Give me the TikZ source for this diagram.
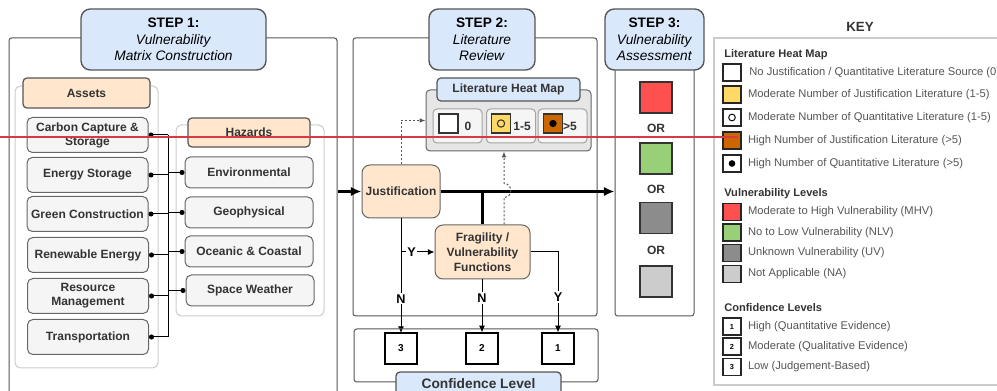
\documentclass[tikz,border=0pt]{standalone}
\usepackage{fontspec}
\setmainfont{Liberation Sans}
\usetikzlibrary{arrows.meta}
\definecolor{stepblue}{HTML}{DAE8FC}
\definecolor{peach}{HTML}{FFE6CC}
\definecolor{itemgray}{HTML}{F5F5F5}
\definecolor{mapgray}{HTML}{E6E6E6}
\definecolor{edgegray}{HTML}{666666}
\definecolor{framedark}{HTML}{555555}
\definecolor{framegray}{HTML}{CCCCCC}
\definecolor{txt}{HTML}{333333}
\definecolor{keygray}{HTML}{555555}
\definecolor{dotgray}{HTML}{555555}
\definecolor{mhv}{HTML}{FF5050}
\definecolor{nlv}{HTML}{97D077}
\definecolor{uv}{HTML}{8C8C8C}
\definecolor{na}{HTML}{CCCCCC}
\definecolor{lowlit}{HTML}{FFD966}
\definecolor{highlit}{HTML}{CC6600}
\definecolor{markred}{HTML}{D63B44}
\begin{document}
\begin{tikzpicture}[x=0.75pt, y=-0.75pt,
    frame/.style={draw=framedark, line width=0.75pt, rounded corners=2pt, inner sep=0pt},
    group/.style={draw=framegray, line width=0.75pt, rounded corners=4pt, inner sep=0pt},
    stepbox/.style={draw=framedark, fill=stepblue, line width=1pt, rounded corners=7pt, align=center, inner sep=0pt, text=black, font=\fontsize{10.3}{12.4}\selectfont},
    header/.style={draw=framedark, fill=peach, line width=0.9pt, rounded corners=3pt, inner sep=0pt, text=txt, font=\fontsize{9}{10.5}\selectfont\bfseries},
    item/.style={draw=edgegray, fill=itemgray, line width=0.75pt, rounded corners=4pt, align=center, inner sep=0pt, text=txt, font=\fontsize{9}{10.5}\selectfont\bfseries},
    proc/.style={draw=edgegray, fill=peach, line width=0.75pt, rounded corners=6pt, align=center, inner sep=0pt, text=txt, font=\fontsize{9}{11.25}\selectfont\bfseries},
    cell/.style={draw=edgegray!60, fill=itemgray, line width=0.75pt, rounded corners=3pt, inner sep=0pt, minimum width=36.75pt, minimum height=25.5pt},
    cellsq/.style={draw=txt, line width=0.9pt, inner sep=0pt, minimum size=14.25pt},
    celltxt/.style={inner sep=0pt, text=txt, font=\fontsize{9}{10}\selectfont\bfseries},
    conf/.style={draw=black, fill=white, line width=0.9pt, inner sep=0pt, minimum width=24pt, minimum height=23.25pt, font=\fontsize{7.5}{9}\selectfont\bfseries},
    vsq/.style={draw=txt, line width=1pt, inner sep=0pt, minimum width=24pt, minimum height=23.25pt},
    ortxt/.style={inner sep=0pt, text=txt, font=\fontsize{9}{10}\selectfont\bfseries},
    ksq/.style={draw=black!85, line width=1.1pt, inner sep=0pt, minimum width=13.5pt, minimum height=12.75pt},
    keytxt/.style={inner sep=0pt, text=keygray, font=\fontsize{8.4}{10}\selectfont},
    keyhead/.style={inner sep=0pt, text=txt, font=\fontsize{8.3}{10}\selectfont\bfseries},
    wire/.style={draw=black, line width=0.75pt},
    dot/.style={wire, {Circle[length=3.75pt]}-},
    arrow/.style={wire, -{Latex[length=5pt,width=4.5pt]}},
    bigarrow/.style={draw=black, line width=1.7pt, -{Latex[length=8pt,width=7pt]}},
    thickline/.style={draw=black, line width=1.7pt},
    dotarrow/.style={draw=dotgray, line width=0.75pt, dash pattern=on 1.5pt off 1.5pt, -{Latex[length=4.5pt,width=3.5pt]}},
    lbl/.style={fill=white, inner sep=1pt, font=\fontsize{9.5}{11}\selectfont\bfseries}]
    \useasboundingbox (0,0) rectangle (997,391);
    % step frames
    \node[frame, minimum width=246pt, minimum height=286.5pt] (fr1) at (173,229) {};
    \node[frame, minimum width=183pt, minimum height=208.5pt] (fr2) at (475,177) {};
    \node[frame, minimum width=59.25pt, minimum height=208.5pt] (fr3) at (654.5,177) {};
    \node[stepbox, minimum width=138.75pt, minimum height=45.75pt] (s1) at (173.5,39.5) {\textbf{STEP 1:}\\\textit{Vulnerability}\\\textit{Matrix Construction}};
    \node[stepbox, minimum width=79.5pt, minimum height=45.75pt] (s2) at (482,39.5) {\textbf{STEP 2:}\\\textit{Literature}\\\textit{Review}};
    \node[stepbox, minimum width=74.25pt, minimum height=45.75pt] (s3) at (654.5,39.5) {\textbf{STEP 3:}\\\textit{Vulnerability}\\\textit{Assessment}};
    % step 1
    \node[group, minimum width=107.25pt, minimum height=211.5pt] (ag) at (86.5,227) {};
    \node[header, minimum width=95.25pt, minimum height=22.5pt] (ah) at (86.5,93) {Assets};
    \node[item, minimum width=90.75pt, minimum height=26.25pt] (a1) at (87.5,135) {Carbon Capture \&\\Storage};
    \node[item, minimum width=90.75pt, minimum height=26.25pt] (a2) at (87.5,175) {Energy Storage};
    \node[item, minimum width=90.75pt, minimum height=26.25pt] (a3) at (87.5,214) {Green Construction};
    \node[item, minimum width=90.75pt, minimum height=26.25pt] (a4) at (88,255) {Renewable Energy};
    \node[item, minimum width=90.75pt, minimum height=26.25pt] (a5) at (88,296) {Resource\\Management};
    \node[item, minimum width=90.75pt, minimum height=26.25pt] (a6) at (88,337) {Transportation};
    \node[group, minimum width=111pt, minimum height=143.25pt] (hg) at (250,220.5) {};
    \node[header, minimum width=91.5pt, minimum height=21.75pt] (hh) at (249,132.5) {Hazards};
    \node[item, minimum width=96pt, minimum height=23.25pt] (h1) at (249,172.5) {Environmental};
    \node[item, minimum width=96pt, minimum height=23.25pt] (h2) at (249,212.5) {Geophysical};
    \node[item, minimum width=96pt, minimum height=23.25pt] (h3) at (249,251.5) {Oceanic \& Coastal};
    \node[item, minimum width=96pt, minimum height=23.25pt] (h4) at (250,290.5) {Space Weather};
    \coordinate (bus) at (168,135);
    \draw[wire] (bus) -- (bus |- a6.east);
    \draw[dot] (a1.east) -- (a1.east -| bus);
    \draw[dot] (a2.east) -- (a2.east -| bus);
    \draw[dot] (a3.east) -- (a3.east -| bus);
    \draw[dot] (a4.east) -- (a4.east -| bus);
    \draw[dot] (a5.east) -- (a5.east -| bus);
    \draw[dot] (a6.east) -- (a6.east -| bus);
    \draw[dot] (h1.west) -- (h1.west -| bus);
    \draw[dot] (h2.west) -- (h2.west -| bus);
    \draw[dot] (h3.west) -- (h3.west -| bus);
    \draw[dot] (h4.west) -- (h4.west -| bus);
    % step 2
    \node[draw=edgegray, fill=mapgray, line width=0.75pt, rounded corners=3pt, minimum width=123.75pt, minimum height=45.75pt] (hm) at (508.5,120.5) {};
    \node[stepbox, minimum width=107.25pt, minimum height=17.25pt, rounded corners=3pt, line width=0.9pt, text=txt, font=\fontsize{9}{10}\selectfont\bfseries] (hmh) at (508.5,89.5) {Literature Heat Map};
    \node[cell] (hc1) at (457.5,126) {};
    \node[cell] (hc2) at (511,126) {};
    \node[cell] (hc3) at (562.5,126) {};
    \node[cellsq, fill=white] (q1) at (448.5,123.5) {};
    \node[cellsq, fill=lowlit] (q2) at (501,123.5) {};
    \node[cellsq, fill=highlit] (q3) at (553,123.5) {};
    \node[circle, draw=txt, line width=0.8pt, inner sep=0pt, minimum size=5.5pt] (q2m) at (q2) {};
    \node[circle, fill=black, inner sep=0pt, minimum size=5.5pt] (q3m) at (q3) {};
    \node[celltxt] (t1) at (468,126) {0};
    \node[celltxt] (t2) at (522,126) {1-5};
    \node[celltxt] (t3) at (570,126) {>5};
    \node[proc, minimum width=58.5pt, minimum height=39.75pt] (just) at (401,191.5) {Justification};
    \node[proc, minimum width=71.25pt, minimum height=40.5pt] (frag) at (482.5,252) {Fragility /\\Vulnerability\\Functions};
    \coordinate (hop) at (504,191.5);
    \draw[bigarrow] (just.west -| fr1.east) -- (just.west);
    \draw[bigarrow] (just.east) -- (just.east -| fr3.west);
    \draw[thickline] (frag.north) -- (frag.north |- just.east);
    \draw[dotarrow] (just.north) |- (hm.west);
    \draw[dotarrow] (hop |- frag.north) -- ++(0,-27) .. controls +(9,0) and +(9,0) .. ++(0,-14) -- (hop |- hm.south);
    \draw[arrow] (just.south |- frag.west) -- node[lbl, pos=0.32] {Y} (frag.west);
    \draw[arrow] (just.south) -- node[lbl, pos=0.7] {N} (just.south |- 0,333);
    % confidence level
    \node[frame, minimum width=183pt, minimum height=39.75pt] (cg) at (476,355.5) {};
    \node[conf] (c3) at (401,348.5) {3};
    \node[conf] (c2) at (482,348.5) {2};
    \node[conf] (c1) at (558,348.5) {1};
    \node[stepbox, minimum width=123.75pt, minimum height=18pt, rounded corners=3pt, text=txt, font=\fontsize{10.3}{12}\selectfont\bfseries] (ch) at (478.5,384) {Confidence Level};
    \draw[arrow] (frag.south -| c2) -- node[lbl, pos=0.35] {N} (c2.north);
    \draw[arrow] (frag.east) -| node[lbl, pos=0.78] {Y} (c1.north);
    % step 3
    \node[vsq, fill=mhv] (v1) at (656,97.5) {};
    \node[vsq, fill=nlv] (v2) at (656,158.5) {};
    \node[vsq, fill=uv] (v3) at (656,218) {};
    \node[vsq, fill=na] (v4) at (656,281.5) {};
    \node[ortxt] (or1) at (656,128) {OR};
    \node[ortxt] (or2) at (656,189) {OR};
    \node[ortxt] (or3) at (656,250) {OR};
    % key
    \node[draw=framegray, line width=1.3pt, inner sep=0pt, minimum width=237pt, minimum height=260.25pt] (keyfr) at (872,211.5) {};
    \node[inner sep=0pt, font=\fontsize{10}{12}\selectfont\bfseries, text=txt] (key) at (860,27) {KEY};
    \node[keyhead, anchor=west] (kh1) at (724,55) {Literature Heat Map};
    \node[ksq, fill=white, label={[keytxt, label distance=5.5pt]east:No Justification / Quantitative Literature Source (0)}] (l1) at (732,72.5) {};
    \node[ksq, fill=lowlit, label={[keytxt, label distance=4.5pt]east:Moderate Number of Justification Literature (1-5)}] (l2) at (732,94.5) {};
    \node[ksq, fill=white, label={[keytxt, label distance=4.5pt]east:Moderate Number of Quantitative Literature (1-5)}] (l3) at (732,117.5) {};
    \node[circle, draw=black, line width=0.7pt, inner sep=0pt, minimum size=5pt] (l3m) at (l3) {};
    \node[ksq, fill=highlit, label={[keytxt, label distance=4.5pt]east:High Number of Justification Literature (>5)}] (l4) at (732,140.5) {};
    \node[ksq, fill=white, label={[keytxt, label distance=4.5pt]east:High Number of Quantitative Literature (>5)}] (l5) at (732,163.5) {};
    \node[circle, fill=black, inner sep=0pt, minimum size=5pt] (l5m) at (l5) {};
    \node[keyhead, anchor=west] (kh2) at (724,194) {Vulnerability Levels};
    \node[ksq, fill=mhv, label={[keytxt, label distance=4.5pt]east:Moderate to High Vulnerability (MHV)}] (l6) at (732,212) {};
    \node[ksq, fill=nlv, label={[keytxt, label distance=4.5pt]east:No to Low Vulnerability (NLV)}] (l7) at (732,232.5) {};
    \node[ksq, fill=uv, label={[keytxt, label distance=4.5pt]east:Unknown Vulnerability (UV)}] (l8) at (732,253) {};
    \node[ksq, fill=na, label={[keytxt, label distance=4.5pt]east:Not Applicable (NA)}] (l9) at (732,274) {};
    \node[keyhead, anchor=west] (kh3) at (724,308) {Confidence Levels};
    \node[ksq, fill=white, font=\fontsize{5.5}{6}\selectfont\bfseries, label={[keytxt, label distance=4.5pt]east:High (Quantitative Evidence)}] (l10) at (732,326.5) {1};
    \node[ksq, fill=white, font=\fontsize{5.5}{6}\selectfont\bfseries, label={[keytxt, label distance=4.5pt]east:Moderate (Qualitative Evidence)}] (l11) at (732,346.5) {2};
    \node[ksq, fill=white, font=\fontsize{5.5}{6}\selectfont\bfseries, label={[keytxt, label distance=4.5pt]east:Low (Judgement-Based)}] (l12) at (732,367) {3};
    % red mark across the figure
    \draw[markred, line width=1.9pt] (0,137) -- (738,137);
\end{tikzpicture}
\end{document}
